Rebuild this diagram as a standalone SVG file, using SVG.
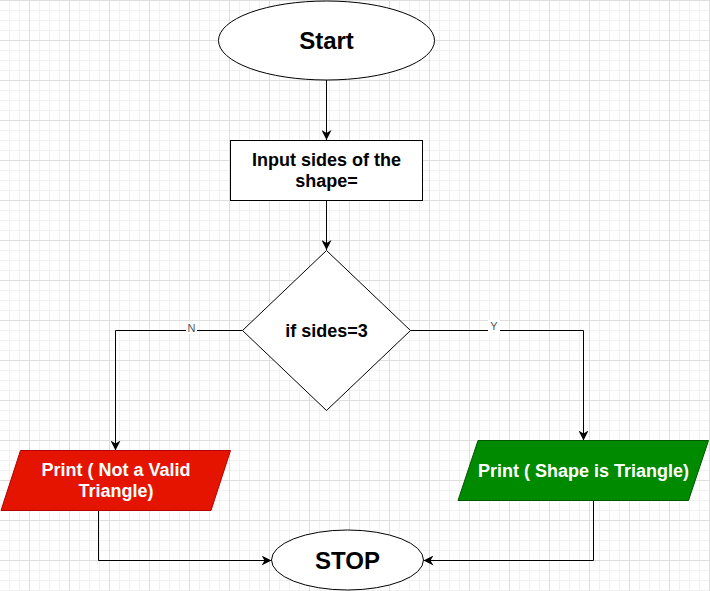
<svg xmlns="http://www.w3.org/2000/svg" width="710" height="591" viewBox="0 0 710 591">
<defs>
<pattern id="grid" patternUnits="userSpaceOnUse" x="29" y="0" width="40" height="40">
<path d="M10.5 0V40M20.5 0V40M30.5 0V40M0 10.5H40M0 20.5H40M0 30.5H40" stroke="#f1f1f1" stroke-width="1" fill="none"/>
<path d="M0.5 0V40M0 0.5H40" stroke="#dedede" stroke-width="1" fill="none"/>
</pattern>
<marker id="arr" viewBox="0 0 10 10" refX="10" refY="5" markerWidth="10" markerHeight="10" markerUnits="userSpaceOnUse" orient="auto">
<path d="M0 0L10 5L0 10L3 5Z" fill="#000"/>
</marker>
<style>
.t{font-family:"Liberation Sans",Arial,sans-serif;font-weight:bold;text-anchor:middle;}
.s{stroke:#000;stroke-width:1;fill:#fff;}
.e{stroke:#000;stroke-width:1;fill:none;marker-end:url(#arr);}
.lbl{font-family:"Liberation Sans",Arial,sans-serif;font-size:11px;fill:#555;text-anchor:middle;}
</style>
</defs>
<rect width="710" height="591" fill="#fff"/>
<rect width="710" height="591" fill="url(#grid)"/>
<g id="connectors">
<path class="e" d="M326.5 80V140"/>
<path class="e" d="M326.5 200V250"/>
<path class="e" d="M242.5 330.5H115.5V450.5"/>
<path class="e" d="M410.5 330.5H583.5V440.5"/>
<path class="e" d="M98.5 510.5V560.5H271.5"/>
<path class="e" d="M593.5 500.5V560.5H423.5"/>
<rect x="186" y="322" width="11" height="12" fill="#fff"/>
<text class="lbl" x="191.5" y="332">N</text>
<rect x="488" y="320" width="12" height="12" fill="#fff"/>
<text class="lbl" x="494" y="330">Y</text>
</g>
<g id="start">
<ellipse class="s" cx="326.5" cy="40.5" rx="108" ry="39.5"/>
<text class="t" x="326.5" y="49" font-size="24">Start</text>
</g>
<g id="input">
<rect class="s" x="230.5" y="140.5" width="192" height="60"/>
<text class="t" x="326.5" y="166" font-size="18">Input sides of the</text>
<text class="t" x="326.5" y="187" font-size="18">shape=</text>
</g>
<g id="decision">
<polygon class="s" points="326.5,250.5 410.5,330.5 326.5,410.5 242.5,330.5"/>
<text class="t" x="326.5" y="337" font-size="18">if sides=3</text>
</g>
<g id="notvalid">
<polygon points="20.5,450.5 230.5,450.5 211,510.5 1,510.5" fill="#e51400" stroke="#b20000" stroke-width="1"/>
<text class="t" x="116" y="476" font-size="18" fill="#fff">Print ( Not a Valid</text>
<text class="t" x="116" y="497" font-size="18" fill="#fff">Triangle)</text>
</g>
<g id="triangle">
<polygon points="478,440.5 708.5,440.5 688.5,500.5 458,500.5" fill="#008a00" stroke="#005700" stroke-width="1"/>
<text class="t" x="583.5" y="476.5" font-size="18" fill="#fff">Print ( Shape is Triangle)</text>
</g>
<g id="stop">
<ellipse class="s" cx="347.5" cy="560" rx="76" ry="30"/>
<text class="t" x="347.5" y="568.5" font-size="24">STOP</text>
</g>
</svg>
